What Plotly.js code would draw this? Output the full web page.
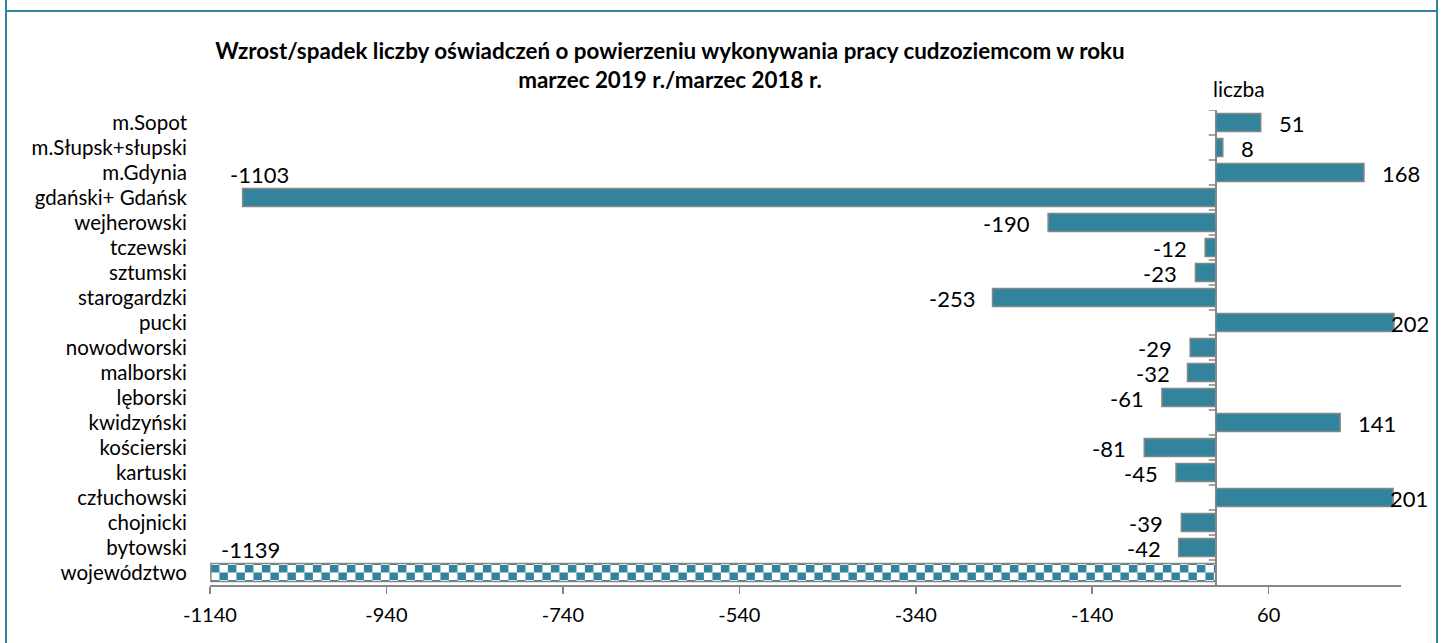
<!DOCTYPE html>
<html>
<head>
<meta charset="utf-8">
<script src="https://cdn.plot.ly/plotly-3.0.1.min.js"></script>
<style>
  html, body { margin: 0; padding: 0; background: #fff; }
  #wrap { position: relative; width: 1442px; height: 643px; }
  #chart { position: absolute; left: 0; top: 0; width: 1442px; height: 643px; }
  .bl { position: absolute; background: #31849B; pointer-events: none; }
</style>
</head>
<body>
<div id="wrap">
  <div id="chart"></div>
  <div class="bl" style="left:5px; top:0; width:2px; height:643px;"></div>
  <div class="bl" style="left:1436px; top:0; width:2px; height:643px;"></div>
  <div class="bl" style="left:5px; top:10px; width:1433px; height:2px;"></div>
</div>
<script>
// ---- data (top-to-bottom order as in the chart) ----
const categories = [
  "m.Sopot", "m.Słupsk+słupski", "m.Gdynia", "gdański+ Gdańsk", "wejherowski",
  "tczewski", "sztumski", "starogardzki", "pucki", "nowodworski", "malborski",
  "lęborski", "kwidzyński", "kościerski", "kartuski", "człuchowski", "chojnicki",
  "bytowski"
];
const values = [51, 8, 168, -1103, -190, -12, -23, -253, 202, -29, -32, -61, 141, -81, -45, 201, -39, -42];
const totalCategory = ["województwo"];
const totalValue = [-1139];
const xTickValues = [-1140, -940, -740, -540, -340, -140, 60];
const xTickLabels = ["-1140", "-940", "-740", "-540", "-340", "-140", "60"];
const xMin = -1140;
const xMax = 210;

const titleText = "Wzrost/spadek liczby oświadczeń o powierzeniu wykonywania pracy cudzoziemcom w roku<br>marzec 2019 r./marzec 2018 r.";
const unitLabel = "liczba";

const TEAL = "#31849B";
const GRAY = "#868686";
const FONT = "Lato, 'Open Sans', sans-serif";

const allCats = categories.concat(totalCategory);
const allVals = values.concat(totalValue);

const MARGIN = { l: 210, r: 41, t: 110, b: 58 };
const pxPerUnit = (1442 - MARGIN.l - MARGIN.r) / (xMax - xMin);

const traces = [
  {
    type: "bar", orientation: "h",
    x: values, y: categories,
    marker: { color: TEAL, line: { color: GRAY, width: 1.5 } },
    width: 0.72, hoverinfo: "x+y"
  },
  {
    type: "bar", orientation: "h",
    x: totalValue, y: totalCategory,
    marker: { color: TEAL, line: { color: GRAY, width: 1.5 } },
    width: 0.72, hoverinfo: "x+y"
  }
];

// data labels
const annotations = allCats.map((c, i) => {
  const v = allVals[i];
  const a = {
    x: v, y: c, xref: "x", yref: "y", text: String(v), showarrow: false,
    font: { family: FONT, size: 22, color: "#000" }, yanchor: "middle", yshift: -1
  };
  if (v < -1000) {          // no room left of bar: put above the bar, kept inside the plot
    a.x = Math.max(v - 15 / pxPerUnit, xMin + 9 / pxPerUnit);
    a.xanchor = "left"; a.yshift = 23;
  } else if (v > 185) {     // near right edge: overlaps bar end
    a.xanchor = "left"; a.xshift = -5;
  } else if (v >= 0) {
    a.xanchor = "left"; a.xshift = 16;
  } else {
    a.xanchor = "right"; a.xshift = -16;
  }
  return a;
});
annotations.push({
  x: 0, y: 1, xref: "x", yref: "paper", text: unitLabel, showarrow: false,
  xanchor: "left", yanchor: "bottom", xshift: -5, yshift: 7,
  font: { family: FONT, size: 21, color: "#000" }
});

// category-boundary tick marks on the zero line
const shapes = [];
for (let i = 0; i <= allCats.length - 1; i++) {
  shapes.push({
    type: "line", xref: "x", yref: "y", xsizemode: "pixel", xanchor: 0,
    x0: -7, x1: 0, y0: i - 0.5, y1: i - 0.5,
    line: { color: GRAY, width: 1.5 }
  });
}

const layout = {
  width: 1442, height: 643,
  margin: MARGIN,
  paper_bgcolor: "rgba(0,0,0,0)", plot_bgcolor: "rgba(0,0,0,0)",
  showlegend: false,
  bargap: 0.28,
  title: {
    text: titleText, xref: "container", yref: "container",
    x: 0.4646, xanchor: "center", y: 1 - 59 / 643, yanchor: "middle",
    font: { family: FONT, size: 22.4, color: "#000", weight: "bold" }
  },
  xaxis: {
    range: [xMin, xMax], tickmode: "array", tickvals: xTickValues, ticktext: xTickLabels,
    showgrid: false, showline: true, linecolor: GRAY, linewidth: 1.5,
    ticks: "outside", ticklen: 7, tickcolor: GRAY, tickwidth: 1.5,
    zeroline: true, zerolinecolor: GRAY, zerolinewidth: 2,
    ticklabelstandoff: 4,
    tickfont: { family: FONT, size: 20, color: "#000" },
    fixedrange: true
  },
  yaxis: {
    type: "category", categoryorder: "array", categoryarray: allCats,
    range: [allCats.length - 0.5, -0.5], autorange: false,
    showgrid: false, showline: false, zeroline: false,
    ticks: "", ticklabelstandoff: 22,
    tickfont: { family: FONT, size: 20.5, color: "#000" },
    fixedrange: true
  },
  annotations: annotations,
  shapes: shapes
};

Plotly.newPlot("chart", traces, layout, { displayModeBar: false, staticPlot: true }).then(gd => {
  // checkerboard fill for the total bar
  const svg = gd.querySelector("svg.main-svg");
  const ns = "http://www.w3.org/2000/svg";
  let defs = svg.querySelector("defs");
  if (!defs) { defs = document.createElementNS(ns, "defs"); svg.insertBefore(defs, svg.firstChild); }
  const barTraces = gd.querySelectorAll(".barlayer .trace");
  const path = barTraces[1].querySelector("path");
  const bb = path.getBBox();
  const cw = 8.5, ch = 7.5;
  const pat = document.createElementNS(ns, "pattern");
  pat.setAttribute("id", "checker");
  pat.setAttribute("patternUnits", "userSpaceOnUse");
  pat.setAttribute("width", 2 * cw);
  pat.setAttribute("height", 2 * ch);
  pat.setAttribute("x", bb.x);
  pat.setAttribute("y", bb.y + bb.height / 2 - ch);
  const bg = document.createElementNS(ns, "rect");
  bg.setAttribute("width", 2 * cw); bg.setAttribute("height", 2 * ch); bg.setAttribute("fill", "#fff");
  pat.appendChild(bg);
  [[0, 0], [cw, ch]].forEach(([x, y]) => {
    const r = document.createElementNS(ns, "rect");
    r.setAttribute("x", x); r.setAttribute("y", y);
    r.setAttribute("width", cw); r.setAttribute("height", ch);
    r.setAttribute("fill", TEAL);
    pat.appendChild(r);
  });
  defs.appendChild(pat);
  path.style.fill = "url(#checker)";
  path.style.fillOpacity = 1;
});
</script>
</body>
</html>
